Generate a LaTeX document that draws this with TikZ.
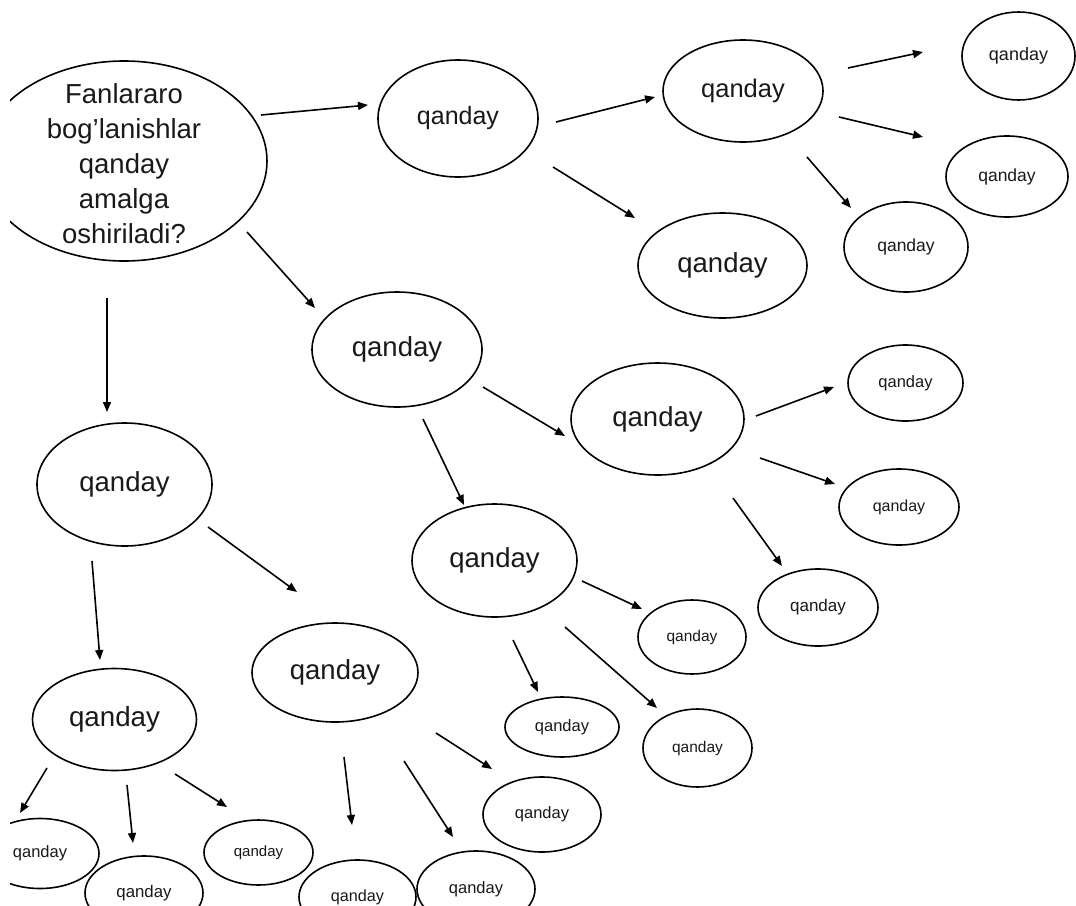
\documentclass[tikz,border=0pt]{standalone}
\usepackage{fontspec}
\setmainfont{Liberation Sans}
\usetikzlibrary{arrows.meta,calc,shapes.geometric}
\tikzset{
  bub/.style n args={3}{ellipse, draw=black, line width=1.6pt, inner sep=0pt,
    minimum width=#1, minimum height=#2, font=\fontsize{#3}{#3}\selectfont, text=black!90},
  arr/.style={line width=1.6pt, -{Triangle[length=10pt,width=8pt]}}
}
\begin{document}
\begin{tikzpicture}[x=1pt,y=-1pt]
\useasboundingbox (0,0) rectangle (1076,905);
\fill[white] (0,0) rectangle (1076,905);
\clip (10,0) rectangle (1076,905);
% nodes
\node[bub={286pt}{200pt}{27.5}] (A) at (124,161) {};
\node[align=center, font=\fontsize{27.5}{35}\selectfont, text=black!90, inner sep=0pt] (At) at ($(A)+(0,2.5)$)
  {Fanlararo\\bog’lanishlar\\qanday\\amalga\\oshiriladi?};
\node[bub={160pt}{117pt}{25}]   (B) at (458,118.5) {qanday};
\node[bub={160pt}{102pt}{25.5}] (C) at (743,91) {qanday};
\node[bub={113pt}{88pt}{18}]    (D) at (1018.5,56) {qanday};
\node[bub={122pt}{81pt}{17.5}]  (E) at (1007,176.5) {qanday};
\node[bub={124pt}{90pt}{17.5}]  (F) at (906,247) {qanday};
\node[bub={169pt}{105pt}{27.5}] (G) at (722.5,265.5) {qanday};
\node[bub={170pt}{115pt}{27.5}] (H) at (397,349.5) {qanday};
\node[bub={173pt}{112pt}{27.5}] (I) at (657.5,419) {qanday};
\node[bub={115pt}{76pt}{16.5}]  (J) at (905.5,383) {qanday};
\node[bub={120pt}{76pt}{16}]    (K) at (899,507) {qanday};
\node[bub={120pt}{77pt}{17}]    (L) at (818,607.5) {qanday};
\node[bub={108pt}{74pt}{15.5}]  (M) at (692,637) {qanday};
\node[bub={165pt}{113pt}{27.5}] (N) at (494.5,560.5) {qanday};
\node[bub={114pt}{60pt}{16.5}]  (O) at (562,727) {qanday};
\node[bub={109pt}{78pt}{15.5}]  (P) at (697.5,748) {qanday};
\node[bub={175pt}{123pt}{27.5}] (Q) at (124.5,484.5) {qanday};
\node[bub={166pt}{99pt}{27.5}]  (R) at (335,672.5) {qanday};
\node[bub={164pt}{102pt}{27.7}] (S) at (114.5,719.5) {qanday};
\node[bub={118pt}{75pt}{16.5}]  (T) at (542,814.5) {qanday};
\node[bub={118pt}{70pt}{16.5}]  (U) at (40,853.5) {qanday};
\node[bub={118pt}{74pt}{16.8}]  (V) at (144,893) {qanday};
\node[bub={109pt}{65pt}{15}]    (W) at (258.5,852.5) {qanday};
\node[bub={117pt}{74pt}{16.2}]  (X) at (357.5,897) {qanday};
\node[bub={118pt}{76pt}{16.5}]  (Y) at (476,889) {qanday};
% connectors
\draw[arr] ($(A)+(137,-46)$) -- ($(B)+(-90,-13.5)$);
\draw[arr] ($(A)+(123,71)$) -- ($(H)+(-82,-41.5)$);
\draw[arr] ($(A)+(-17,137)$) -- ($(Q)+(-17.5,-72.5)$);
\draw[arr] ($(B)+(98,3.5)$) -- ($(C)+(-88,6)$);
\draw[arr] ($(B)+(95,48.5)$) -- ($(G)+(-87.5,-47.5)$);
\draw[arr] ($(C)+(105,-23)$) -- ($(D)+(-95.5,-4)$);
\draw[arr] ($(C)+(96,26)$) -- ($(E)+(-84,-39.5)$);
\draw[arr] ($(C)+(64,66)$) -- ($(F)+(-55,-39)$);
\draw[arr] ($(H)+(86,37.5)$) -- ($(I)+(-92.5,17)$);
\draw[arr] ($(H)+(26,69.5)$) -- ($(N)+(-30.5,-55.5)$);
\draw[arr] ($(I)+(98.5,-3)$) -- ($(J)+(-71.5,4)$);
\draw[arr] ($(I)+(102.5,39)$) -- ($(K)+(-64,-23)$);
\draw[arr] ($(I)+(75.5,79)$) -- ($(L)+(-36,-41.5)$);
\draw[arr] ($(N)+(87.5,20.5)$) -- ($(M)+(-50,-28)$);
\draw[arr] ($(N)+(18.5,79.5)$) -- ($(O)+(-24,-35)$);
\draw[arr] ($(N)+(70.5,66.5)$) -- ($(P)+(-40.5,-40)$);
\draw[arr] ($(Q)+(83.5,42.5)$) -- ($(R)+(-38,-80.5)$);
\draw[arr] ($(Q)+(-32.5,76.5)$) -- ($(S)+(-14.5,-59.5)$);
\draw[arr] ($(S)+(-67.5,48.5)$) -- ($(U)+(-20,-40.5)$);
\draw[arr] ($(S)+(12.5,65.5)$) -- ($(V)+(-11,-50)$);
\draw[arr] ($(S)+(60.5,54.5)$) -- ($(W)+(-31.5,-45.5)$);
\draw[arr] ($(R)+(9,84.5)$) -- ($(X)+(-5.5,-72)$);
\draw[arr] ($(R)+(69,88.5)$) -- ($(Y)+(-23,-52)$);
\draw[arr] ($(R)+(101,60.5)$) -- ($(T)+(-50,-45.5)$);
\end{tikzpicture}
\end{document}
